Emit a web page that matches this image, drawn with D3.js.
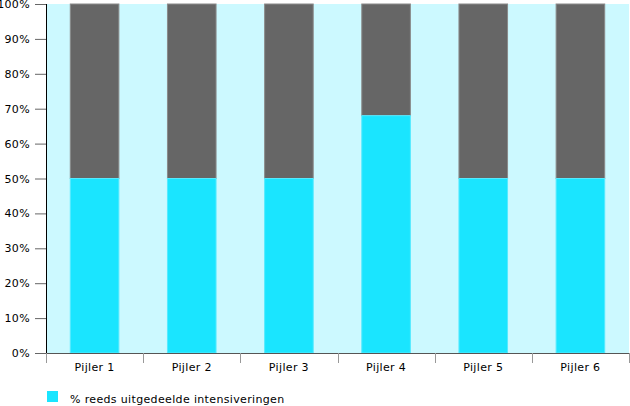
<!DOCTYPE html>
<html><head><meta charset="utf-8">
<script src="https://cdn.jsdelivr.net/npm/d3@7"></script>
<style>body{margin:0;background:#fff}svg{display:block}text{font-family:"DejaVu Sans",sans-serif;font-size:11px;fill:#000;letter-spacing:0.35px}</style>
</head><body><svg id="c" width="630" height="406"></svg>
<script>
const categories = ["Pijler 1","Pijler 2","Pijler 3","Pijler 4","Pijler 5","Pijler 6"];
const uitgedeeld = [50,50,50,68,50,50];
const yTicks = [0,10,20,30,40,50,60,70,80,90,100];
const legendLabel = "% reeds uitgedeelde intensiveringen";

const svg = d3.select("#c");
const m = {l:46, r:629, t:4, b:353};
const x = d3.scaleBand().domain(categories).range([m.l, m.r]).paddingInner(0).paddingOuter(0);
const y = d3.scaleLinear().domain([0,100]).range([m.b, m.t]);
const bw = x.bandwidth()*0.5;

svg.append("rect").attr("x",m.l).attr("y",m.t).attr("width",m.r-m.l).attr("height",m.b-m.t).attr("fill","#ccf9ff");

const g = svg.append("g");
categories.forEach((c,i)=>{
  const x0 = x(c)+(x.bandwidth()-bw)/2;
  g.append("rect").attr("x",x0).attr("y",y(100)).attr("width",bw).attr("height",y(uitgedeeld[i])-y(100))
    .attr("fill","#666666").attr("stroke","#8a8a8a").attr("stroke-width",1);
  g.append("rect").attr("x",x0).attr("y",y(uitgedeeld[i])).attr("width",bw).attr("height",y(0)-y(uitgedeeld[i]))
    .attr("fill","#1ae5ff").attr("stroke","#55eaff").attr("stroke-width",1);
});

// y axis
const ya = svg.append("g").attr("transform",`translate(${m.l},0)`)
  .call(d3.axisLeft(y).tickValues(yTicks).tickFormat(d=>d+"%").tickSize(11).tickPadding(5));
ya.select(".domain").attr("stroke","#000").attr("d",`M0.5,${m.t}V${m.b}`);
ya.selectAll(".tick line").attr("stroke","#666");
ya.selectAll("text").style("font-family","DejaVu Sans").style("font-size","11px");

// x axis
const xa = svg.append("g").attr("transform",`translate(0,${m.b})`);
xa.append("line").attr("x1",m.l).attr("x2",m.r).attr("y1",0.5).attr("y2",0.5).attr("stroke","#555");
const bounds = categories.map(c=>x(c)).concat([m.r]);
xa.selectAll("line.t").data(bounds).enter().append("line").attr("class","t")
  .attr("x1",d=>Math.round(d)+0.5).attr("x2",d=>Math.round(d)+0.5).attr("y1",0).attr("y2",10).attr("stroke","#999");
xa.selectAll("text").data(categories).enter().append("text")
  .attr("x",d=>x(d)+x.bandwidth()/2).attr("y",18).attr("text-anchor","middle").text(d=>d);

// legend
svg.append("rect").attr("x",47).attr("y",391).attr("width",11).attr("height",11).attr("fill","#1ae5ff");
svg.append("text").attr("x",70).attr("y",403).text(legendLabel);
</script></body></html>
